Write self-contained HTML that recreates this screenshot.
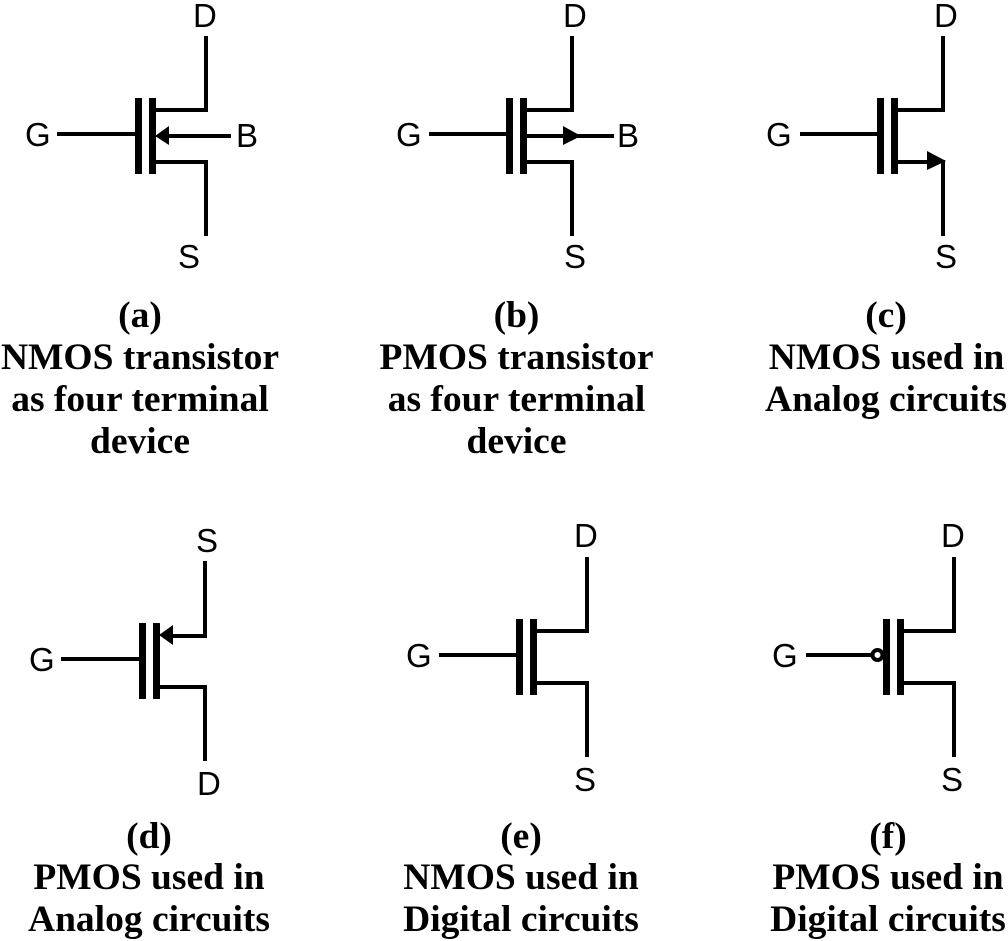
<!DOCTYPE html>
<html><head><meta charset="utf-8"><style>
html,body{margin:0;padding:0;background:#fff;width:1008px;height:941px;overflow:hidden}
svg{display:block}
.l{font-family:"Liberation Sans",sans-serif;font-size:33px;fill:#000}
.c{font-family:"Liberation Serif",serif;font-weight:bold;font-size:37.5px;fill:#000;text-anchor:middle}
</style></head><body>
<svg width="1008" height="941" viewBox="0 0 1008 941" xmlns="http://www.w3.org/2000/svg">
<rect width="1008" height="941" fill="#fff"/>
<g fill="#000">
<!-- a -->
<rect x="135" y="98" width="7" height="76"/><rect x="149" y="98" width="7" height="76"/>
<rect x="57" y="132" width="78" height="4"/>
<rect x="156" y="108" width="52" height="4"/><rect x="204" y="36" width="4" height="76"/>
<rect x="156" y="160" width="52" height="4"/><rect x="204" y="160" width="4" height="76"/>
<rect x="165" y="134" width="66" height="4"/><polygon points="155,136 169,126 169,145"/>
<!-- b -->
<rect x="506" y="98" width="7" height="76"/><rect x="520" y="98" width="7" height="76"/>
<rect x="429" y="132" width="77" height="4"/>
<rect x="527" y="108" width="47" height="4"/><rect x="570" y="36" width="4" height="76"/>
<rect x="527" y="160" width="47" height="4"/><rect x="570" y="160" width="4" height="76"/>
<rect x="527" y="134" width="87" height="4"/><polygon points="563,126 581,136 563,145"/>
<!-- c -->
<rect x="877" y="98" width="7" height="76"/><rect x="891" y="98" width="7" height="76"/>
<rect x="800" y="132" width="77" height="4"/>
<rect x="898" y="108" width="47" height="4"/><rect x="941" y="36" width="4" height="76"/>
<rect x="898" y="160" width="32" height="4"/><rect x="941" y="160" width="4" height="76"/>
<polygon points="927,151 946,161 927,170"/>
<!-- d -->
<rect x="139" y="623" width="7" height="76"/><rect x="153" y="623" width="7" height="76"/>
<rect x="61" y="657" width="78" height="4"/>
<rect x="203" y="561" width="4" height="77"/><rect x="170" y="634" width="37" height="4"/>
<polygon points="159,635 173,625 173,645"/>
<rect x="160" y="685" width="47" height="4"/><rect x="203" y="685" width="4" height="76"/>
<!-- e -->
<rect x="516" y="619" width="7" height="76"/><rect x="530" y="619" width="7" height="76"/>
<rect x="439" y="653" width="77" height="4"/>
<rect x="537" y="629" width="52" height="4"/><rect x="585" y="557" width="4" height="76"/>
<rect x="537" y="681" width="52" height="4"/><rect x="585" y="681" width="4" height="76"/>
<!-- f -->
<rect x="806" y="653" width="67" height="4"/>
<circle cx="877.5" cy="655" r="5" fill="#fff" stroke="#000" stroke-width="4"/>
<rect x="883" y="619" width="7" height="76"/><rect x="897" y="619" width="7" height="76"/>
<rect x="904" y="629" width="52" height="4"/><rect x="952" y="557" width="4" height="76"/>
<rect x="904" y="681" width="52" height="4"/><rect x="952" y="681" width="4" height="76"/>
</g>
<g class="l">
<text class="l" x="193" y="27">D</text><text class="l" x="25" y="146">G</text><text class="l" x="236" y="147">B</text><text class="l" x="178" y="268">S</text>
<text class="l" x="563" y="27">D</text><text class="l" x="396" y="146">G</text><text class="l" x="617" y="147">B</text><text class="l" x="564" y="268">S</text>
<text class="l" x="934" y="27">D</text><text class="l" x="766" y="146">G</text><text class="l" x="935" y="268">S</text>
<text class="l" x="29" y="671">G</text><text class="l" x="196" y="552">S</text><text class="l" x="197" y="795">D</text>
<text class="l" x="574" y="547">D</text><text class="l" x="406" y="667">G</text><text class="l" x="574" y="791">S</text>
<text class="l" x="941" y="547">D</text><text class="l" x="772" y="667">G</text><text class="l" x="941" y="791">S</text>
</g>
<text class="c" x="140" y="327">(a)</text>
<text class="c" x="140" y="369">NMOS transistor</text>
<text class="c" x="140" y="411">as four terminal</text>
<text class="c" x="140" y="453">device</text>
<text class="c" x="516.5" y="327">(b)</text>
<text class="c" x="516.5" y="369">PMOS transistor</text>
<text class="c" x="516.5" y="411">as four terminal</text>
<text class="c" x="516.5" y="453">device</text>
<text class="c" x="886" y="327">(c)</text>
<text class="c" x="886.5" y="369">NMOS used in</text>
<text class="c" x="886" y="411">Analog circuits</text>
<text class="c" x="149" y="848">(d)</text>
<text class="c" x="149" y="889">PMOS used in</text>
<text class="c" x="149" y="931">Analog circuits</text>
<text class="c" x="521" y="848">(e)</text>
<text class="c" x="521" y="889">NMOS used in</text>
<text class="c" x="521" y="931">Digital circuits</text>
<text class="c" x="888" y="848">(f)</text>
<text class="c" x="888" y="889">PMOS used in</text>
<text class="c" x="888" y="931">Digital circuits</text>
</svg>
</body></html>
